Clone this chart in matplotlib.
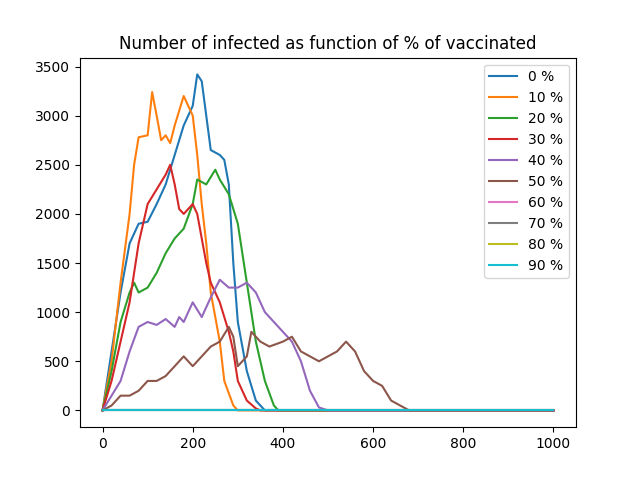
import matplotlib
matplotlib.use("Agg")
import matplotlib.pyplot as plt

x0 = [0, 20, 40, 60, 80, 100, 120, 140, 160, 180, 200, 210, 220, 230, 240, 260, 270, 280, 290, 300, 320, 340, 360, 1000]
y0 = [0, 600, 1200, 1700, 1900, 1920, 2100, 2300, 2600, 2900, 3100, 3420, 3350, 3000, 2650, 2600, 2550, 2300, 1500, 900, 400, 100, 0, 0]

x10 = [0, 20, 40, 60, 70, 80, 100, 110, 120, 130, 140, 150, 160, 180, 190, 200, 210, 220, 230, 240, 260, 270, 290, 300, 1000]
y10 = [0, 500, 1300, 2000, 2500, 2780, 2800, 3240, 3000, 2750, 2800, 2720, 2900, 3200, 3100, 3000, 2600, 2100, 1700, 1200, 700, 300, 50, 0, 0]

x20 = [0, 20, 40, 60, 70, 80, 100, 120, 140, 160, 180, 200, 210, 230, 250, 260, 280, 300, 320, 340, 360, 380, 390, 1000]
y20 = [0, 400, 900, 1200, 1300, 1200, 1250, 1400, 1600, 1750, 1850, 2100, 2350, 2300, 2450, 2350, 2200, 1900, 1300, 700, 300, 50, 0, 0]

x30 = [0, 20, 40, 60, 80, 100, 120, 140, 150, 160, 170, 180, 200, 210, 230, 240, 260, 280, 290, 300, 320, 340, 350, 1000]
y30 = [0, 300, 700, 1100, 1700, 2100, 2250, 2400, 2500, 2300, 2050, 2000, 2100, 2000, 1500, 1300, 1100, 800, 600, 300, 100, 20, 0, 0]

x40 = [0, 40, 60, 80, 100, 120, 140, 160, 170, 180, 200, 220, 240, 260, 280, 300, 320, 340, 360, 380, 400, 420, 440, 460, 480, 500, 1000]
y40 = [0, 300, 600, 850, 900, 870, 930, 850, 950, 900, 1100, 950, 1150, 1330, 1250, 1250, 1300, 1200, 1000, 900, 800, 700, 500, 200, 30, 0, 0]

x50 = [0, 20, 40, 60, 80, 100, 120, 140, 160, 180, 200, 220, 240, 260, 280, 290, 300, 320, 330, 350, 370, 400, 420, 440, 460, 480, 500, 520, 540, 560, 580, 600, 620, 640, 660, 680, 1000]
y50 = [0, 50, 150, 150, 200, 300, 300, 350, 450, 550, 450, 550, 650, 700, 850, 750, 450, 550, 800, 700, 650, 700, 750, 600, 550, 500, 550, 600, 700, 600, 400, 300, 250, 100, 50, 0, 0]

x_flat = [0, 1000]
y_flat = [0, 0]

series = [
    ("0 %", x0, y0),
    ("10 %", x10, y10),
    ("20 %", x20, y20),
    ("30 %", x30, y30),
    ("40 %", x40, y40),
    ("50 %", x50, y50),
    ("60 %", x_flat, y_flat),
    ("70 %", x_flat, y_flat),
    ("80 %", x_flat, y_flat),
    ("90 %", x_flat, y_flat),
]

fig, ax = plt.subplots(figsize=(6.4, 4.8), dpi=100)
for label, xs, ys in series:
    ax.plot(xs, ys, label=label)
ax.set_title("Number of infected as function of % of vaccinated")
ax.legend()
fig.savefig("out.png")
